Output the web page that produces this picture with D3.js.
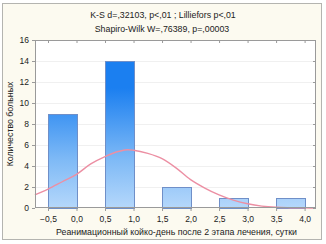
<!DOCTYPE html>
<html>
<head>
<meta charset="utf-8">
<script src="https://cdn.jsdelivr.net/npm/d3@7"></script>
<style>
  body { margin: 0; background: #ffffff; }
  text { font-family: "Liberation Sans", Arial, sans-serif; fill: #222; }
</style>
</head>
<body>
<div id="chart"></div>
<script>
// histogram bins (left edge, right edge, count)
const binStarts = [-0.5, 0.0, 0.5, 1.0, 1.5, 2.0, 2.5, 3.0, 3.5];
const binEnds   = [0.0, 0.5, 1.0, 1.5, 2.0, 2.5, 3.0, 3.5, 4.0];
const counts    = [9, 0, 14, 0, 2, 0, 1, 0, 1];

// expected normal curve
const curveX = [-0.73, -0.5, -0.25, 0.0, 0.25, 0.5, 0.75, 0.9, 1.0, 1.25, 1.5, 1.75, 2.0, 2.25, 2.5, 2.75, 3.0, 3.25, 3.5, 3.75, 4.0, 4.2];
const curveY = [1.25, 1.8, 2.5, 3.2, 4.2, 4.9, 5.4, 5.55, 5.5, 5.2, 4.7, 3.8, 2.7, 1.9, 1.25, 0.75, 0.4, 0.18, 0.07, 0.03, 0.01, 0.0];

const xTicks = [-0.5, 0.0, 0.5, 1.0, 1.5, 2.0, 2.5, 3.0, 3.5, 4.0];
const yTicks = [0, 2, 4, 6, 8, 10, 12, 14, 16];

const title1 = "K-S d=,32103, p<,01 ; Lilliefors p<,01";
const title2 = "Shapiro-Wilk W=,76389, p=,00003";
const xLabel = "Реанимационный койко-день после 2 этапа лечения, сутки";
const yLabel = "Количество больных";

const W = 326, H = 244;
const margin = {top: 40, right: 10, bottom: 36, left: 35};
const width = W - margin.left - margin.right;
const height = H - margin.top - margin.bottom;

const svg = d3.select("#chart").append("svg")
    .attr("width", W)
    .attr("height", H);

// outer panel
svg.append("rect")
    .attr("x", 2.5).attr("y", 3.5)
    .attr("width", 319).attr("height", 236)
    .attr("fill", "#fcfaf0")
    .attr("stroke", "#b4b4b0");

const defs = svg.append("defs");
const grad = defs.append("linearGradient")
    .attr("id", "barGrad")
    .attr("gradientUnits", "userSpaceOnUse")
    .attr("x1", 0).attr("x2", 0)
    .attr("y1", margin.top + height).attr("y2", margin.top + 8);
grad.append("stop").attr("offset", "0%").attr("stop-color", "#e2f0ff");
grad.append("stop").attr("offset", "55%").attr("stop-color", "#7fbaf6");
grad.append("stop").attr("offset", "100%").attr("stop-color", "#1b7ff0");

const g = svg.append("g")
    .attr("transform", "translate(" + margin.left + "," + margin.top + ")");

const x = d3.scaleLinear().domain([-0.728, 4.2]).range([0, width]);
const y = d3.scaleLinear().domain([0, 16]).range([height, 0]);

// plot area
g.append("rect")
    .attr("width", width).attr("height", height)
    .attr("fill", "#ffffff");

// faint grid
g.selectAll(".grid")
    .data(yTicks.slice(1, -1))
    .enter().append("line")
    .attr("x1", 0).attr("x2", width)
    .attr("y1", d => Math.round(y(d)) + 0.5).attr("y2", d => Math.round(y(d)) + 0.5)
    .attr("stroke", "#f0f0f0");

// bars
const bins = binStarts.map((s, i) => ({x0: s, x1: binEnds[i], n: counts[i]}));
g.selectAll(".bar")
    .data(bins.filter(d => d.n > 0))
    .enter().append("rect")
    .attr("class", "bar")
    .attr("x", d => Math.round(x(d.x0)) + 0.5)
    .attr("width", d => Math.round(x(d.x1)) - Math.round(x(d.x0)))
    .attr("y", d => Math.round(y(d.n)) + 0.5)
    .attr("height", d => Math.round(y(0)) - Math.round(y(d.n)))
    .attr("fill", "url(#barGrad)")
    .attr("stroke", "#6f8fc8")
    .attr("stroke-width", 1);

// normal curve
const line = d3.line()
    .x((d, i) => x(curveX[i]))
    .y(d => y(d))
    .curve(d3.curveMonotoneX);

g.append("path")
    .datum(curveY)
    .attr("d", line)
    .attr("fill", "none")
    .attr("stroke", "#ec8fa3")
    .attr("stroke-width", 1.4);

// frame
g.append("rect")
    .attr("x", 0.5).attr("y", 0.5)
    .attr("width", width - 1).attr("height", height - 1)
    .attr("fill", "none")
    .attr("stroke", "#9a9a9a");

// axes
const fmt = d => d3.format(".1f")(d).replace(".", ",");

const xAxis = g.append("g")
    .attr("transform", "translate(0," + height + ")")
    .call(d3.axisBottom(x).tickValues(xTicks).tickSize(3).tickFormat(fmt));
const yAxis = g.append("g")
    .call(d3.axisLeft(y).tickValues(yTicks).tickSize(3).tickPadding(3));
// right and top ticks
g.append("g")
    .attr("transform", "translate(" + width + ",0)")
    .call(d3.axisLeft(y).tickValues(yTicks).tickSize(3).tickFormat(""));
g.append("g")
    .call(d3.axisBottom(x).tickValues(xTicks).tickSize(3).tickFormat(""));

g.selectAll(".domain").remove();
g.selectAll(".tick line").attr("stroke", "#9a9a9a");
g.selectAll(".tick text")
    .attr("font-family", "'Liberation Sans', Arial, sans-serif")
    .attr("font-size", 8.5)
    .attr("fill", "#222");
xAxis.selectAll(".tick text").attr("dy", "0.95em");

// titles
svg.append("text")
    .attr("x", 163).attr("y", 18)
    .attr("text-anchor", "middle")
    .attr("font-size", 8.8)
    .text(title1);
svg.append("text")
    .attr("x", 162).attr("y", 32)
    .attr("text-anchor", "middle")
    .attr("font-size", 8.8)
    .text(title2);

svg.append("text")
    .attr("x", margin.left + width / 2 + 1).attr("y", 235)
    .attr("text-anchor", "middle")
    .attr("font-size", 8.8)
    .text(xLabel);

svg.append("text")
    .attr("transform", "translate(13," + (margin.top + 84) + ") rotate(-90)")
    .attr("text-anchor", "middle")
    .attr("font-size", 8.8)
    .text(yLabel);
</script>
</body>
</html>
